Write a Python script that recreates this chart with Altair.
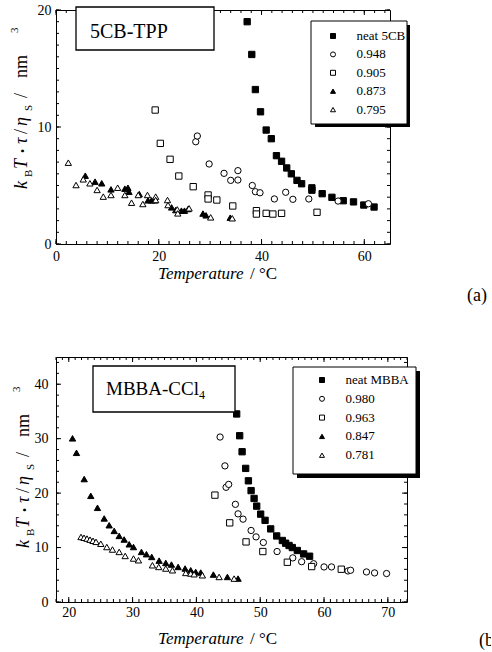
import altair as alt
import pandas as pd

SERIF = "Liberation Serif"

# ---------------- (a) 5CB-TPP ----------------
A_NAMES = ["neat 5CB", "0.948", "0.905", "0.873", "0.795"]

a_neat_t = [37.2, 38.1, 38.8, 39.8, 40.9, 41.9, 42.9, 43.9, 44.9, 45.8, 46.9, 47.8,
            49.8, 49.8, 51.8, 53.7, 55.9, 57.9, 59.9, 61.9]
a_neat_v = [19.0, 16.2, 13.2, 11.3, 9.74, 9.0, 7.55, 7.07, 6.5, 6.0, 5.44, 5.15,
            4.8, 4.6, 4.3, 3.99, 3.7, 3.6, 3.33, 3.16]

a_948_t = [27.2, 27.5, 29.8, 32.7, 34.0, 35.4, 35.4, 38.2, 38.8, 39.7, 42.5, 44.7,
           46.1, 49.2, 54.9, 60.8]
a_948_v = [8.74, 9.23, 6.84, 6.04, 5.44, 6.27, 5.47, 5.0, 4.47, 4.38, 3.85, 4.42,
           3.82, 3.85, 3.67, 3.44]

a_905_t = [19.3, 20.3, 22.2, 23.9, 26.7, 29.6, 29.6, 31.3, 34.4, 39.0, 39.0, 40.9,
           42.2, 43.9, 50.8]
a_905_v = [11.45, 8.6, 7.24, 5.81, 4.9, 4.19, 3.85, 3.76, 3.25, 2.85, 2.56, 2.62,
           2.56, 2.62, 2.71]

a_873_t = [5.7, 7.6, 8.9, 10.7, 13.4, 14.0, 14.2, 16.2, 17.9, 18.6, 19.2, 22.5,
           23.3, 24.4, 25.0, 25.7, 28.6, 29.2, 33.9]
a_873_v = [5.84, 5.33, 5.19, 4.67, 4.73, 4.81, 4.47, 4.27, 3.73, 3.73, 3.73, 3.13,
           2.9, 2.85, 2.85, 2.99, 2.6, 2.45, 2.25]

a_795_t = [2.4, 3.9, 5.3, 6.6, 8.0, 9.2, 10.7, 12.0, 13.4, 14.7, 16.0, 16.9, 17.8,
           19.4, 19.4, 21.7, 21.8, 23.6, 23.7, 25.9, 30.1, 34.3]
a_795_v = [6.95, 5.04, 5.53, 5.19, 4.62, 4.05, 4.19, 4.81, 4.19, 3.53, 4.19, 3.42,
           4.19, 4.05, 3.76, 3.76, 3.33, 2.96, 2.62, 3.05, 2.28, 2.2]

A_X_MAJOR = [0, 20, 40, 60]
A_X_MINOR = list(range(0, 66, 2))
A_Y_MAJOR = [0, 10, 20]
A_Y_MINOR = list(range(0, 21, 1))

# ---------------- (b) MBBA-CCl4 ----------------
B_NAMES = ["neat MBBA", "0.980", "0.963", "0.847", "0.781"]

b_neat_t = [46.31, 46.78, 47.16, 47.72, 48.15, 48.57, 49.04, 49.45, 50.07, 50.76,
            51.64, 52.58, 53.47, 53.98, 54.52, 55.03, 55.82, 56.80, 57.74]
b_neat_v = [34.54, 30.54, 27.6, 24.54, 22.26, 20.46, 19.02, 17.61, 16.14, 15.0,
            13.43, 12.13, 11.3, 10.8, 10.38, 10.0, 9.46, 8.83, 8.41]

b_980_t = [43.71, 44.47, 44.65, 45.06, 46.11, 46.53, 47.31, 48.57, 49.35, 50.49,
           52.64, 55.1, 56.49, 58.37, 60.0, 61.17, 63.75, 64.16, 66.65, 67.92, 69.8]
b_980_v = [30.3, 25.0, 21.07, 21.6, 17.94, 16.19, 15.22, 13.14, 11.96, 10.93,
           9.27, 8.1, 7.4, 7.03, 6.44, 6.44, 5.7, 5.83, 5.52, 5.34, 5.23]

b_963_t = [42.9, 45.22, 47.78, 50.41, 54.25, 58.06, 62.7]
b_963_v = [19.63, 14.54, 11.04, 9.27, 7.3, 6.51, 6.02]

b_847_t = [20.59, 21.21, 22.42, 23.45, 24.50, 25.55, 26.33, 27.12, 27.90, 28.68,
           29.47, 30.14, 31.39, 32.17, 33.00, 34.16, 35.20, 36.09, 37.14, 38.23,
           39.11, 39.89, 40.68, 42.66, 44.86, 46.53]
b_847_v = [30.06, 27.4, 22.58, 19.5, 17.3, 15.35, 14.1, 13.06, 12.14, 11.48,
           10.6, 10.1, 9.2, 8.78, 8.28, 7.6, 7.18, 6.88, 6.44, 6.15, 5.83, 5.52,
           5.41, 5.04, 4.6, 4.3]

b_781_t = [21.92, 22.39, 22.86, 23.33, 23.80, 24.27, 25.02, 25.96, 26.85, 27.90,
           28.84, 30.14, 30.92, 33.11, 34.10, 35.20, 36.25, 38.33, 39.11, 39.64,
           40.94, 43.56, 45.91]
b_781_v = [11.95, 11.8, 11.65, 11.45, 11.25, 11.05, 10.7, 10.1, 9.64, 9.2, 8.46,
           7.99, 7.67, 6.75, 6.44, 6.15, 5.83, 5.34, 5.23, 5.1, 4.91, 4.6, 4.3]

B_X_MAJOR = [20, 30, 40, 50, 60, 70]
B_X_MINOR = list(range(18, 74, 1))
B_Y_MAJOR = [0, 10, 20, 30, 40]
B_Y_MINOR = list(range(0, 46, 2))

SHAPES = ["square", "circle", "square", "triangle-up", "triangle-up"]
FILLS = ["black", "white", "white", "black", "white"]
STROKES = ["black"] * 5

ONE = pd.DataFrame({"k": [0]})

# y-axis title typography: (text, shift along the axis, baseline shift, size, italic)
Y_TITLE = [
    ("k", 0, 0, 18, True),
    ("B", 12, 5, 11, False),
    ("T", 20, 0, 18, True),
    ("\u2022", 36, 0, 12, False),
    ("\u03c4", 45, 0, 18, True),
    ("/", 55, 0, 18, False),
    ("\u03b7", 63, 0, 18, True),
    ("S", 78, 5, 11, False),
    ("/", 91, 0, 18, False),
    ("nm", 111, 0, 18, False),
    ("3", 156, -9, 11, False),
]


def frame(names, ts, vs):
    rows = []
    for name, t_list, v_list in zip(names, ts, vs):
        rows += [{"T": t, "V": v, "series": name} for t, v in zip(t_list, v_list)]
    return pd.DataFrame(rows)


def text(s, x, y, size, italic=False, angle=0, align="left", baseline="alphabetic"):
    return alt.Chart(ONE).mark_text(
        text=s, font=SERIF, fontSize=size,
        fontStyle="italic" if italic else "normal",
        angle=angle, align=align, baseline=baseline, color="black",
    ).encode(x=alt.value(x), y=alt.value(y))


def rect(x1, x2, y1, y2, fill, stroke_width=0):
    kw = dict(fill=fill)
    if stroke_width:
        kw.update(stroke="black", strokeWidth=stroke_width)
    return alt.Chart(ONE).mark_rect(**kw).encode(
        x=alt.value(x1), x2=alt.value(x2), y=alt.value(y1), y2=alt.value(y2))


def axis_layers(df, xs, ys, xpad, ypad, xmaj, ymaj):
    """Tick labels on bottom/left plus the frame line on all four sides."""
    base = alt.Chart(df).mark_point(opacity=0, size=1)
    common = dict(grid=False, title=None, ticks=False, minExtent=0,
                  domainColor="black", domainWidth=1, domain=True)
    lab = dict(labelFont=SERIF, labelFontSize=14, labelColor="black",
               labelFlush=False, labelOverlap=False)

    def xl(**kw):
        return base.encode(
            x=alt.X("T:Q", scale=xs, axis=alt.Axis(**common, **kw)),
            y=alt.Y("V:Q", scale=ys, axis=None))

    def yl(**kw):
        return base.encode(
            y=alt.Y("V:Q", scale=ys, axis=alt.Axis(**common, **kw)),
            x=alt.X("T:Q", scale=xs, axis=None))

    return [
        xl(orient="bottom", values=xmaj, labels=True, labelPadding=xpad, **lab),
        yl(orient="left", values=ymaj, labels=True, labelPadding=ypad, **lab),
        xl(orient="top", values=xmaj, labels=False),
        yl(orient="right", values=ymaj, labels=False),
    ]


def tick_rules(xs, ys, w, h, xmaj, xmin, ymaj, ymin):
    """Inward ticks on all four sides: long at major values, short at minor ones."""
    rules = []
    for vals, size in ((xmin, 3), (xmaj, 5)):
        d = alt.Chart(pd.DataFrame({"tick": vals})).mark_rule(color="black", strokeWidth=1)
        enc = dict(x=alt.X("tick:Q", scale=xs, axis=None))
        rules.append(d.encode(y=alt.value(h), y2=alt.value(h - size), **enc))
        rules.append(d.encode(y=alt.value(0), y2=alt.value(size), **enc))
    for vals, size in ((ymin, 3), (ymaj, 5)):
        d = alt.Chart(pd.DataFrame({"tick": vals})).mark_rule(color="black", strokeWidth=1)
        enc = dict(y=alt.Y("tick:Q", scale=ys, axis=None))
        rules.append(d.encode(x=alt.value(0), x2=alt.value(size), **enc))
        rules.append(d.encode(x=alt.value(w), x2=alt.value(w - size), **enc))
    return rules


def panel(df, names, xdom, ydom, w, h, ticks, pads, legend_pos, boxes, texts, ytitle_pos):
    xs = alt.Scale(domain=xdom, nice=False, zero=False)
    ys = alt.Scale(domain=ydom, nice=False, zero=False)
    xmaj, xmin, ymaj, ymin = ticks
    lx, ly, row_pad = legend_pos
    leg = alt.Legend(
        orient="none", legendX=lx, legendY=ly, title=None,
        labelFont=SERIF, labelFontSize=13, labelColor="black",
        symbolSize=25, symbolStrokeWidth=1,
        rowPadding=row_pad, labelOffset=17, padding=0,
    )
    pts = alt.Chart(df).mark_point(
        filled=True, size=40, strokeWidth=1, opacity=1
    ).encode(
        x=alt.X("T:Q", scale=xs, axis=None),
        y=alt.Y("V:Q", scale=ys, axis=None),
        shape=alt.Shape("series:N", scale=alt.Scale(domain=names, range=SHAPES), legend=leg),
        fill=alt.Fill("series:N", scale=alt.Scale(domain=names, range=FILLS), legend=leg),
        stroke=alt.Stroke("series:N", scale=alt.Scale(domain=names, range=STROKES), legend=leg),
    )
    layers = axis_layers(df, xs, ys, pads[0], pads[1], xmaj, ymaj)
    layers += tick_rules(xs, ys, w, h, xmaj, xmin, ymaj, ymin)
    layers.append(pts)
    layers += boxes
    layers += texts
    bx, by = ytitle_pos
    for s, up, shift, size, italic in Y_TITLE:
        layers.append(text(s, bx + shift, by - up, size, italic=italic, angle=270))
    return alt.layer(*layers).properties(width=w, height=h).resolve_axis(
        x="independent", y="independent")


df_a = frame(A_NAMES, [a_neat_t, a_948_t, a_905_t, a_873_t, a_795_t],
             [a_neat_v, a_948_v, a_905_v, a_873_v, a_795_v])
df_b = frame(B_NAMES, [b_neat_t, b_980_t, b_963_t, b_847_t, b_781_t],
             [b_neat_v, b_980_v, b_963_v, b_847_v, b_781_v])

top = panel(
    df_a, A_NAMES, [0, 65], [0, 20], 334, 234,
    (A_X_MAJOR, A_X_MINOR, A_Y_MAJOR, A_Y_MINOR), (5, 5),
    (270.5, 19.5, 4.4),
    [rect(20, 158, -3, 40, "white", 1.3),
     rect(259, 354, 15, 117, "black"),
     rect(255, 351, 11, 114, "white", 1)],
    [text("5CB-TPP", 34, 28, 20),
     text("Temperature", 102, 269, 17, italic=True),
     text("/ \u00b0C", 194, 269, 17),
     text("(a)", 411, 291, 18)],
    (-29, 179),
)

bottom = panel(
    df_b, B_NAMES, [18, 73], [0, 45], 351, 245,
    (B_X_MAJOR, B_X_MINOR, B_Y_MAJOR, B_Y_MINOR), (3, 8),
    (259.5, 16.5, 4.8),
    [rect(37, 179, 9, 55, "white", 1.3),
     rect(241, 364, 14, 121, "black"),
     rect(237, 360, 10, 117, "white", 1)],
    [text("MBBA-CCl", 50, 38, 19),
     text("4", 143, 42, 12),
     text("Temperature", 102, 287, 17, italic=True),
     text("/ \u00b0C", 194, 287, 17),
     text("(b)", 423, 289, 18)],
    (-27, 191),
)

chart = alt.vconcat(top, bottom, spacing=113, bounds="flush").resolve_scale(
    shape="independent", fill="independent", stroke="independent"
).properties(
    padding={"left": 9, "top": 3, "right": -9, "bottom": 0},
    background="white",
).configure_view(stroke=None)

chart.save("out.html", embed_options={"renderer": "svg", "actions": False})
